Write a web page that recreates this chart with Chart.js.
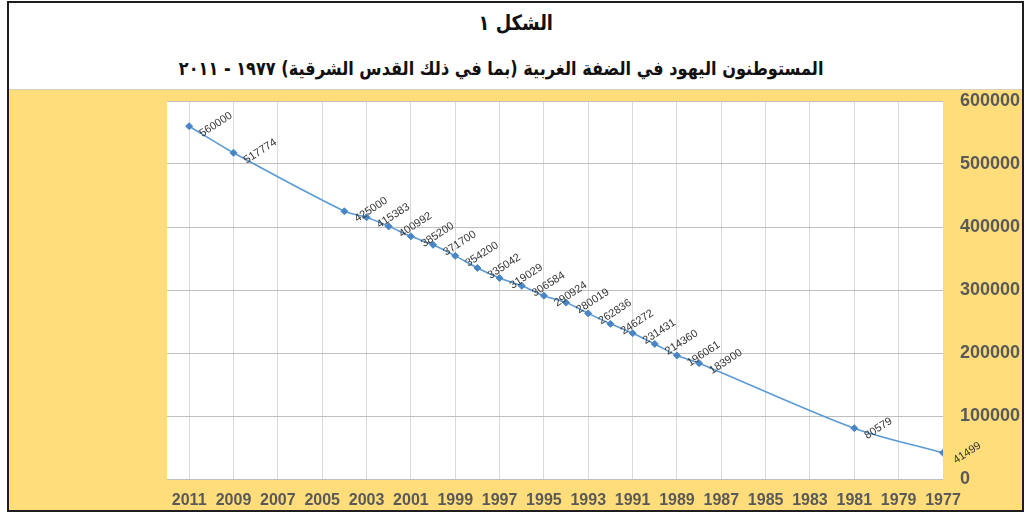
<!DOCTYPE html>
<html>
<head>
<meta charset="utf-8">
<script src="https://cdn.jsdelivr.net/npm/chart.js@4.4.1/dist/chart.umd.min.js"></script>
<style>
  html, body { margin: 0; padding: 0; background: #ffffff; width: 1029px; height: 513px; overflow: hidden; }
  #frame { position: absolute; left: 7px; top: 1px; width: 1013px; height: 507px; border: 2px solid #1e1e1e; background: #ffffff; }
  #title { position: absolute; left: 0; top: 0; width: 1013px; height: 86px; text-align: center; font-family: "DejaVu Sans", sans-serif; font-weight: bold; color: #111; }
  .tl { position: absolute; text-align: center; }
  .tl span { display: inline-block; transform: scaleX(0.85); transform-origin: center; white-space: nowrap; }
  #t1 { left: 0; right: 0; top: 5px; font-size: 21px; line-height: 30px; }
  #t2 { left: 0; right: 28px; top: 50px; font-size: 19px; line-height: 30px; }
  #sep { position: absolute; left: 0; top: 86px; width: 1013px; height: 1px; background: #d6d2c2; }
  #wrap { position: absolute; left: 0; top: 87px; width: 1013px; height: 420px; background: #FFDD7A; }
  canvas { display: block; }
</style>
</head>
<body>
<div id="frame">
  <div id="title">
    <div id="t1" class="tl"><span dir="rtl">الشكل ١</span></div>
    <div id="t2" class="tl"><span dir="rtl">المستوطنون اليهود في الضفة الغربية (بما في ذلك القدس الشرقية) ١٩٧٧ - ٢٠١١</span></div>
  </div>
  <div id="sep"></div>
  <div id="wrap"><canvas id="c" width="1013" height="420"></canvas></div>
</div>
<script>
// ---- data ----
const years = [2011, 2009, 2004, 2003, 2002, 2001, 2000, 1999, 1998, 1997, 1996, 1995, 1994, 1993, 1992, 1991, 1990, 1989, 1988, 1981, 1977];
const settlers = [560000, 517774, 425000, 415383, 400992, 385200, 371700, 354200, 335042, 319029, 306584, 290924, 280019, 262836, 246272, 231431, 214360, 196061, 183900, 80579, 41499];
const yearTicks = [2011, 2009, 2007, 2005, 2003, 2001, 1999, 1997, 1995, 1993, 1991, 1989, 1987, 1985, 1983, 1981, 1979, 1977];
const valueTicks = [0, 100000, 200000, 300000, 400000, 500000, 600000];

const points = years.map((y, i) => ({ x: y, y: settlers[i] }));

const plotBg = {
  id: 'plotBg',
  beforeDraw(chart) {
    const a = chart.chartArea, ctx = chart.ctx;
    ctx.save();
    ctx.fillStyle = '#ffffff';
    ctx.fillRect(a.left, a.top, a.right - a.left, a.bottom - a.top);
    ctx.restore();
  }
};

const pointLabels = {
  id: 'pointLabels',
  afterDatasetsDraw(chart) {
    const ctx = chart.ctx;
    const meta = chart.getDatasetMeta(0);
    ctx.save();
    ctx.font = '11px "Liberation Sans", Arial, sans-serif';
    ctx.fillStyle = '#363636';
    ctx.textAlign = 'left';
    ctx.textBaseline = 'alphabetic';
    meta.data.forEach((pt, i) => {
      ctx.save();
      ctx.translate(pt.x + 13, pt.y + 11);
      ctx.rotate(-33 * Math.PI / 180);
      ctx.fillText(String(settlers[i]), 0, 0);
      ctx.restore();
    });
    ctx.restore();
  }
};

new Chart(document.getElementById('c'), {
  type: 'line',
  data: {
    datasets: [{
      data: points,
      borderColor: '#5B9BD5',
      borderWidth: 1.6,
      tension: 0.3,
      pointStyle: 'rectRot',
      pointRadius: 3.5,
      pointBackgroundColor: '#4A86C5',
      pointBorderColor: '#4A86C5',
      pointBorderWidth: 1,
      fill: false
    }]
  },
  options: {
    responsive: false,
    animation: false,
    events: [],
    layout: { padding: { left: 158, top: 11, right: 0, bottom: 0 } },
    plugins: { legend: { display: false }, tooltip: { enabled: false }, title: { display: false } },
    scales: {
      x: {
        type: 'linear',
        reverse: true,
        min: 1977,
        max: 2012,
        afterBuildTicks(scale) { scale.ticks = yearTicks.map(v => ({ value: v })); },
        afterFit(scale) { scale.height = 31; scale.paddingLeft = 0; scale.paddingRight = 0; },
        grid: { color: '#d9d9d9', lineWidth: 1, drawTicks: false },
        border: { display: false },
        ticks: {
          autoSkip: false,
          maxRotation: 0,
          padding: 12,
          color: '#595959',
          font: { family: '"Liberation Sans", Arial, sans-serif', size: 16, weight: 'bold' },
          callback: v => String(v)
        }
      },
      y: {
        position: 'right',
        min: 0,
        max: 600000,
        afterBuildTicks(scale) { scale.ticks = valueTicks.map(v => ({ value: v })); },
        afterFit(scale) { scale.width = 79; scale.paddingTop = 0; scale.paddingBottom = 0; },
        grid: { color: '#bfbfbf', lineWidth: 1, drawTicks: false },
        border: { display: false },
        ticks: {
          padding: 17,
          color: '#595959',
          font: { family: '"Liberation Sans", Arial, sans-serif', size: 18, weight: 'bold' },
          callback: v => String(v)
        }
      }
    }
  },
  plugins: [plotBg, pointLabels]
});
</script>
</body>
</html>
